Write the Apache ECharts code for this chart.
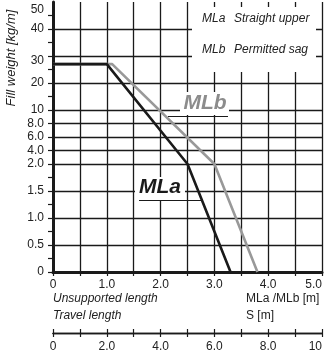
<!DOCTYPE html>
<html><head><meta charset="utf-8">
<script src="https://cdn.jsdelivr.net/npm/echarts@6/dist/echarts.min.js"></script>
<style>html,body{margin:0;padding:0;background:#fff}#c{width:325px;height:355px}</style>
</head><body><div id="c"></div>
<script>
// Y axis: uneven (schematic) scale — value at each tick position
const yTickValues = [0,0.25,0.5,0.75,1.0,1.25,1.5,1.75,2.0,4.0,6.0,8.0,10,15,20,25,30,35,40,45,50];
const yTickLabels = ['0','','0.5','','1.0','','1.5','','2.0','4.0','6.0','8.0','10','','20','','30','','40','','50'];
const yMajorIdx = [0,2,4,6,8,9,10,11,12,14,16,18];
// X axes
const xMin = 0, xMax = 5.0, xStep = 0.5;
const sMin = 0, sMax = 10, sStep = 1;
// Series: unsupported length [m] vs fill weight [kg/m]
const mlaLength = [0, 1.0, 2.5, 3.3];
const mlaWeight = [27, 27, 2.0, 0];
const mlbLength = [0, 1.1, 3.0, 3.8];
const mlbWeight = [27, 27, 2.0, 0];

function toIdx(v){
  for (let i=0;i<yTickValues.length-1;i++){
    if (v <= yTickValues[i+1]) return i + (v - yTickValues[i])/(yTickValues[i+1]-yTickValues[i]);
  }
  return yTickValues.length-1;
}
const pairs = (xs, ys) => xs.map((x,i)=>[x, toIdx(ys[i])]);

const F = '"Liberation Sans", Arial, sans-serif';
const ink = '#1a1a1a';
const numFmt = v => v === 0 ? '0' : (Number.isInteger(v) && v >= 10 ? String(v) : v.toFixed(1));

const chart = echarts.init(document.getElementById('c'));
chart.setOption({
  animation: false,
  backgroundColor: '#fff',
  grid: [
    {left: 53, top: 2, width: 269, height: 270},
    {left: 53, top: 333, width: 269, height: 0}
  ],
  xAxis: [
    {gridIndex: 0, type: 'value', min: xMin, max: xMax, interval: xStep,
     axisLine: {show: true, lineStyle: {color: ink, width: 3}},
     axisTick: {show: true, length: 4, lineStyle: {color: ink, width: 1.2}},
     axisLabel: {margin: 7, fontSize: 12, color: '#222', fontFamily: F, alignMaxLabel: 'right',
       formatter: v => (Math.abs(v - Math.round(v)) < 1e-9) ? numFmt(v) : ''},
     splitLine: {show: true, lineStyle: {color: ink, width: 1.3}}},
    {gridIndex: 1, type: 'value', position: 'bottom', min: sMin, max: sMax, interval: sStep,
     axisLine: {show: true, lineStyle: {color: ink, width: 1.3}},
     axisTick: {show: true, length: 4, lineStyle: {color: ink, width: 1.2}},
     axisLabel: {margin: 8, fontSize: 12, color: '#222', fontFamily: F, alignMaxLabel: 'right',
       formatter: v => (v % 2 === 0) ? numFmt(v) : ''},
     splitLine: {show: false}},
    {gridIndex: 1, type: 'value', position: 'top', min: sMin, max: sMax, interval: sStep,
     axisLine: {show: true, lineStyle: {color: ink, width: 1.3}},
     axisTick: {show: true, length: 4, lineStyle: {color: ink, width: 1.2}},
     axisLabel: {show: false}, splitLine: {show: false}}
  ],
  yAxis: [
    {gridIndex: 0, type: 'category', boundaryGap: false,
     data: yTickValues.map((v,i)=>String(i)),
     axisLine: {show: true, lineStyle: {color: ink, width: 3}},
     axisTick: {show: true, length: 5, interval: (i)=> i < yTickValues.length-1, lineStyle: {color: ink, width: 1.2}},
     splitLine: {show: true, interval: (i)=> yMajorIdx.indexOf(i) >= 0, lineStyle: {color: ink, width: 1.3}},
     axisLabel: {interval: 0, margin: 9, fontSize: 12, color: '#222', fontFamily: F,
       formatter: (val, idx) => {
         const t = yTickLabels[+val];
         if (t === '30') return '{dn|30}';
         if (t === '50') return '{tp|50}';
         return t;
       },
       rich: {
         dn: {fontSize: 12, color: '#222', fontFamily: F, padding: [10,0,0,0]},
         tp: {fontSize: 12, color: '#222', fontFamily: F, padding: [16,0,0,0]}
       }}},
    {gridIndex: 0, type: 'value', min: 0, max: yTickValues.length-1, show: false},
    {gridIndex: 1, type: 'value', min: 0, max: 1, show: false}
  ],
  series: [
    {name: 'MLb', type: 'line', xAxisIndex: 0, yAxisIndex: 1, data: pairs(mlbLength, mlbWeight),
     symbol: 'none', lineStyle: {color: '#999', width: 2.6}, z: 3},
    {name: 'MLa', type: 'line', xAxisIndex: 0, yAxisIndex: 1, data: pairs(mlaLength, mlaWeight),
     symbol: 'none', lineStyle: {color: ink, width: 2.6}, z: 4}
  ],
  graphic: [
    {type: 'text', x: 11, y: 58, rotation: Math.PI/2, z: 100,
     style: {text: 'Fill weight [kg/m]', font: 'italic 13px ' + F, fill: '#222', textAlign: 'center', textVerticalAlign: 'middle'}},
    {type: 'rect', z: 100, shape: {x: 192, y: 7, width: 124, height: 65}, style: {fill: '#fff'}},
    {type: 'text', z: 101, style: {text: 'MLa', x: 202, y: 19, font: 'italic 12px ' + F, fill: '#222', textVerticalAlign: 'middle'}},
    {type: 'text', z: 101, style: {text: 'Straight upper', x: 234, y: 19, font: 'italic 12px ' + F, fill: '#222', textVerticalAlign: 'middle'}},
    {type: 'text', z: 101, style: {text: 'MLb', x: 202, y: 50, font: 'italic 12px ' + F, fill: '#222', textVerticalAlign: 'middle'}},
    {type: 'text', z: 101, style: {text: 'Permitted sag', x: 234, y: 50, font: 'italic 12px ' + F, fill: '#222', textVerticalAlign: 'middle'}},
    {type: 'rect', z: 100, shape: {x: 180, y: 92, width: 49, height: 23}, style: {fill: '#fff'}},
    {type: 'text', z: 101, style: {text: 'MLb', x: 205, y: 103, font: 'italic bold 21px ' + F, fill: '#8c8c8c', textAlign: 'center', textVerticalAlign: 'middle'}},
    {type: 'line', z: 101, shape: {x1: 168, y1: 116.5, x2: 228, y2: 116.5}, style: {stroke: ink, lineWidth: 1}},
    {type: 'rect', z: 100, shape: {x: 135, y: 177, width: 50, height: 23}, style: {fill: '#fff'}},
    {type: 'text', z: 101, style: {text: 'MLa', x: 160, y: 187, font: 'italic bold 21px ' + F, fill: ink, textAlign: 'center', textVerticalAlign: 'middle'}},
    {type: 'line', z: 101, shape: {x1: 139, y1: 200.5, x2: 202, y2: 200.5}, style: {stroke: ink, lineWidth: 1}},
    {type: 'text', z: 101, style: {text: 'Unsupported length', x: 53, y: 299, font: 'italic 12px ' + F, fill: '#222', textVerticalAlign: 'middle'}},
    {type: 'text', z: 101, style: {text: 'Travel length', x: 53, y: 316, font: 'italic 12px ' + F, fill: '#222', textVerticalAlign: 'middle'}},
    {type: 'text', z: 101, style: {text: 'MLa /MLb [m]', x: 246, y: 299, font: '12px ' + F, fill: '#222', textVerticalAlign: 'middle'}},
    {type: 'text', z: 101, style: {text: 'S [m]', x: 246, y: 316, font: '12px ' + F, fill: '#222', textVerticalAlign: 'middle'}}
  ]
});
</script></body></html>
